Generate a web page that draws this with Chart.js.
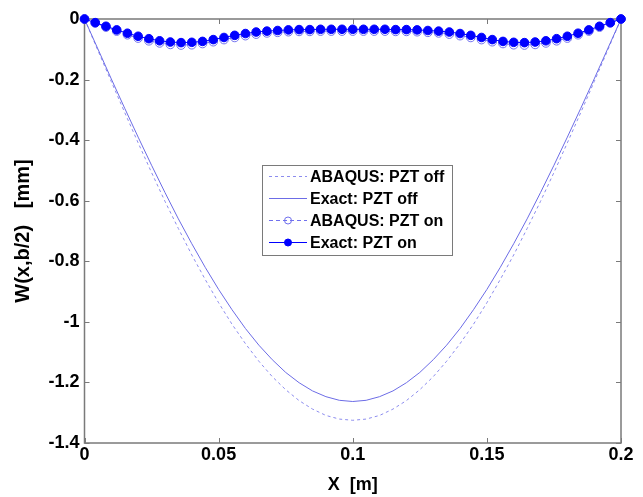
<!DOCTYPE html>
<html>
<head>
<meta charset="utf-8">
<script src="https://cdn.jsdelivr.net/npm/chart.js@4.4.1/dist/chart.umd.min.js"></script>
<style>
  body { margin: 0; background: #fff; }
  #wrap { width: 643px; height: 497px; }
</style>
</head>
<body>
<div id="wrap"><canvas id="plateChart" width="643" height="497"></canvas></div>
<script>
// x positions of the "PZT on" samples [m]
const xOn = [0, 0.004, 0.008, 0.012, 0.016, 0.02, 0.024, 0.028, 0.032, 0.036,
  0.04, 0.044, 0.048, 0.052, 0.056, 0.06, 0.064, 0.068, 0.072, 0.076,
  0.08, 0.084, 0.088, 0.092, 0.096, 0.1, 0.104, 0.108, 0.112, 0.116,
  0.12, 0.124, 0.128, 0.132, 0.136, 0.14, 0.144, 0.148, 0.152, 0.156,
  0.16, 0.164, 0.168, 0.172, 0.176, 0.18, 0.184, 0.188, 0.192, 0.196, 0.2];

// deflection, PZT on [mm]
const wExactOn = [0, -0.012, -0.024, -0.036, -0.047, -0.057, -0.065, -0.072, -0.076, -0.078,
  -0.077, -0.074, -0.068, -0.061, -0.054, -0.048, -0.043, -0.040, -0.038, -0.036,
  -0.035, -0.035, -0.034, -0.034, -0.034, -0.034, -0.034, -0.034, -0.034, -0.035,
  -0.035, -0.036, -0.038, -0.040, -0.043, -0.048, -0.054, -0.061, -0.068, -0.074,
  -0.077, -0.078, -0.076, -0.072, -0.065, -0.057, -0.047, -0.036, -0.024, -0.012, 0];

const wAbaqusOn = [0, -0.013, -0.027, -0.040, -0.052, -0.063, -0.072, -0.079, -0.084, -0.086,
  -0.085, -0.081, -0.075, -0.068, -0.061, -0.055, -0.050, -0.046, -0.044, -0.042,
  -0.041, -0.041, -0.040, -0.040, -0.040, -0.040, -0.040, -0.040, -0.040, -0.041,
  -0.041, -0.042, -0.044, -0.046, -0.050, -0.055, -0.061, -0.068, -0.075, -0.081,
  -0.085, -0.086, -0.084, -0.079, -0.072, -0.063, -0.052, -0.040, -0.027, -0.013, 0];

// x positions of the "PZT off" curves [m]
const xOff = [0, 0.005, 0.01, 0.015, 0.02, 0.025, 0.03, 0.035, 0.04, 0.045,
  0.05, 0.055, 0.06, 0.065, 0.07, 0.075, 0.08, 0.085, 0.09, 0.095,
  0.1, 0.105, 0.11, 0.115, 0.12, 0.125, 0.13, 0.135, 0.14, 0.145,
  0.15, 0.155, 0.16, 0.165, 0.17, 0.175, 0.18, 0.185, 0.19, 0.195, 0.2];

// deflection, PZT off [mm]
const wExactOff = [0, -0.099, -0.198, -0.295, -0.390, -0.483, -0.573, -0.660, -0.742, -0.820,
  -0.893, -0.960, -1.022, -1.077, -1.125, -1.167, -1.201, -1.228, -1.247, -1.259,
  -1.263, -1.259, -1.247, -1.228, -1.201, -1.167, -1.125, -1.077, -1.022, -0.960,
  -0.893, -0.820, -0.742, -0.660, -0.573, -0.483, -0.390, -0.295, -0.198, -0.099, 0];

const wAbaqusOff = [0, -0.104, -0.207, -0.309, -0.409, -0.507, -0.602, -0.692, -0.779, -0.860,
  -0.937, -1.008, -1.072, -1.130, -1.181, -1.224, -1.260, -1.288, -1.309, -1.321,
  -1.325, -1.321, -1.309, -1.288, -1.260, -1.224, -1.181, -1.130, -1.072, -1.008,
  -0.937, -0.860, -0.779, -0.692, -0.602, -0.507, -0.409, -0.309, -0.207, -0.104, 0];

const xTicks = [0, 0.05, 0.1, 0.15, 0.2];
const yTicks = [0, -0.2, -0.4, -0.6, -0.8, -1, -1.2, -1.4];

const seriesNames = ['ABAQUS: PZT off', 'Exact: PZT off', 'ABAQUS: PZT on', 'Exact: PZT on'];

function pts(xs, ys) {
  return xs.map((x, i) => ({ x: x, y: ys[i] }));
}

const FONT = "'Liberation Sans', Arial, sans-serif";
const AXIS_GRAY = '#7a7a7a';

// box around the plot + inward ticks (matlab style)
const boxPlugin = {
  id: 'box',
  beforeDatasetsDraw(chart) {
    const { ctx, chartArea: a, scales } = chart;
    ctx.save();
    ctx.strokeStyle = AXIS_GRAY;
    ctx.lineWidth = 1.5;
    ctx.strokeRect(a.left, a.top, a.right - a.left, a.bottom - a.top);
    ctx.lineWidth = 1;
    ctx.beginPath();
    xTicks.forEach(v => {
      const px = Math.round(scales.x.getPixelForValue(v)) + 0.5;
      ctx.moveTo(px, a.bottom); ctx.lineTo(px, a.bottom - 5);
      ctx.moveTo(px, a.top); ctx.lineTo(px, a.top + 5);
    });
    yTicks.forEach(v => {
      const py = Math.round(scales.y.getPixelForValue(v)) + 0.5;
      ctx.moveTo(a.left, py); ctx.lineTo(a.left + 5, py);
      ctx.moveTo(a.right, py); ctx.lineTo(a.right - 5, py);
    });
    ctx.stroke();
    ctx.restore();
  },
  afterDraw(chart) {
    // legend box inside the plot
    const ctx = chart.ctx;
    const bx = 262.5, by = 165.5, bw = 190, bh = 90;
    ctx.save();
    ctx.fillStyle = '#fff';
    ctx.fillRect(bx, by, bw, bh);
    ctx.strokeStyle = AXIS_GRAY;
    ctx.lineWidth = 1;
    ctx.strokeRect(bx, by, bw, bh);
    ctx.font = 'bold 16px ' + FONT;
    ctx.textBaseline = 'middle';
    ctx.fillStyle = '#000';
    chart.data.datasets.forEach((ds, i) => {
      const y = 176.5 + i * 22;
      ctx.strokeStyle = ds.borderColor;
      ctx.lineWidth = 1;
      ctx.setLineDash(ds.borderDash || []);
      ctx.beginPath();
      ctx.moveTo(269, y); ctx.lineTo(307, y);
      ctx.stroke();
      ctx.setLineDash([]);
      if (ds.pointRadius > 0) {
        ctx.beginPath();
        ctx.arc(288, y, 3.5, 0, Math.PI * 2);
        ctx.fillStyle = ds.pointBackgroundColor;
        ctx.fill();
        ctx.strokeStyle = ds.pointBorderColor;
        ctx.stroke();
      }
      ctx.fillStyle = '#000';
      ctx.fillText(ds.label, 310, y + 1);
    });
    ctx.restore();
  }
};

const ctx = document.getElementById('plateChart').getContext('2d');
const myChart = new Chart(ctx, {
  type: 'line',
  data: {
    datasets: [
      {
        label: seriesNames[0],
        data: pts(xOff, wAbaqusOff),
        borderColor: '#8c8cee',
        borderWidth: 1,
        borderDash: [3, 3],
        pointRadius: 0,
        order: 4
      },
      {
        label: seriesNames[1],
        data: pts(xOff, wExactOff),
        borderColor: '#6c6ce6',
        borderWidth: 1,
        pointRadius: 0,
        order: 3
      },
      {
        label: seriesNames[2],
        data: pts(xOn, wAbaqusOn),
        borderColor: '#7070ee',
        borderWidth: 1,
        borderDash: [4, 3],
        pointRadius: 4.3,
        pointBorderWidth: 1,
        pointBackgroundColor: 'rgba(255,255,255,0)',
        pointBorderColor: '#7070ee',
        order: 2
      },
      {
        label: seriesNames[3],
        data: pts(xOn, wExactOn),
        borderColor: '#0000ff',
        borderWidth: 1,
        pointRadius: 4.3,
        pointBorderWidth: 1,
        pointBackgroundColor: '#0000ff',
        pointBorderColor: '#0000ff',
        order: 1
      }
    ]
  },
  options: {
    responsive: false,
    animation: false,
    clip: false,
    layout: { padding: { top: 19, right: 22, bottom: 0, left: 0 } },
    plugins: {
      legend: { display: false },
      tooltip: { enabled: false }
    },
    elements: { line: { tension: 0 } },
    scales: {
      x: {
        type: 'linear',
        min: 0,
        max: 0.2,
        afterFit: s => { s.height = 54; },
        afterBuildTicks: s => { s.ticks = xTicks.map(v => ({ value: v })); },
        grid: { display: false, drawTicks: false },
        border: { display: false },
        ticks: {
          color: '#000',
          padding: 1,
          font: { family: FONT, size: 18, weight: 'bold' },
          callback: v => String(parseFloat(v.toFixed(2)))
        },
        title: {
          display: true,
          text: 'X  [m]',
          color: '#000',
          padding: { top: 0, bottom: 1 },
          font: { family: FONT, size: 18, weight: 'bold' }
        }
      },
      y: {
        type: 'linear',
        min: -1.4,
        max: 0,
        afterFit: s => { s.width = 84.5; },
        afterBuildTicks: s => { s.ticks = yTicks.map(v => ({ value: v })); },
        grid: { display: false, drawTicks: false },
        border: { display: false },
        ticks: {
          color: '#000',
          padding: 5,
          font: { family: FONT, size: 18, weight: 'bold' },
          callback: v => String(Math.round(v * 10) / 10)
        },
        title: {
          display: true,
          text: 'W(x,b/2)   [mm]',
          color: '#000',
          padding: { top: 11, bottom: 0 },
          font: { family: FONT, size: 20, weight: 'bold' }
        }
      }
    }
  },
  plugins: [boxPlugin]
});
</script>
</body>
</html>
